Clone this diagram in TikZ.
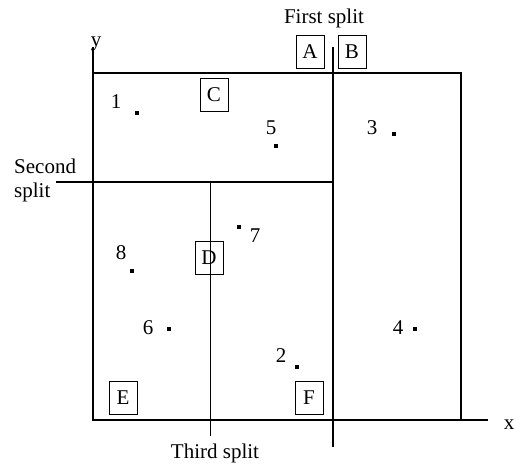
\documentclass[tikz,border=0pt]{standalone}
\usepackage{fontspec}
\setmainfont{Liberation Serif}
\begin{document}
\begin{tikzpicture}[x=1pt,y=-1pt,
    region/.style={draw, line width=0.9pt, minimum width=28pt, minimum height=33pt, inner sep=0pt, font=\fontsize{21}{25}\selectfont},
    lbl/.style={inner sep=0pt, font=\fontsize{21}{24}\selectfont},
    datapt/.style={fill, minimum size=3.5pt, inner sep=0pt}]
  \useasboundingbox (0,0) rectangle (515,464);
  % axes
  \coordinate (O) at (93,420);
  \coordinate (ytop) at (93,47);
  \coordinate (xend) at (488,420);
  \draw [line width=1.8pt] (ytop) -- (O) -- (xend);
  \node [lbl] (ylbl) at (96,44) {y};
  \node [lbl] (xlbl) at (509,425) {x};

  % outer box
  \coordinate (tl) at (93,73);
  \coordinate (tr) at (461,73);
  \coordinate (br) at (461,420);
  \draw [line width=1.2pt] (tl) -- (tr) -- (br);

  % splits
  \coordinate (s1top) at (333,47);
  \coordinate (s1bot) at (333,447);
  \draw [line width=1.2pt] (s1top) -- (s1bot);
  \coordinate (s2left) at (56,182);
  \coordinate (s2right) at (333,182);
  \draw [line width=1.2pt] (s2left) -- (s2right);
  \coordinate (s3top) at (210,182);
  \coordinate (s3bot) at (210,436);
  \draw [line width=0.9pt] (s3top) -- (s3bot);

  \node [lbl] (first) at (324,18) {First split};
  \node [lbl, align=left, anchor=west] (second) at (14,180) {Second\\split};
  \node [lbl] (third) at (215,453) {Third split};

  % regions
  \node [region] (A) at (310,52) {A};
  \node [region] (B) at (352,52) {B};
  \node [region] (C) at (214,95) {C};
  \node [region] (D) at (209,258) {D};
  \node [region] (E) at (123,398) {E};
  \node [region] (F) at (309,398) {F};

  % points
  \foreach \n/\px/\py/\lx/\ly in {1/137/113/116/102, 2/297/367/281/356, 3/394/134/372/128,
      4/415/329/398/328, 5/276/146/271/128, 6/169/329/148/328, 7/239/227/255/236, 8/132/271/121/253}
  {
    \node [datapt] (p\n) at (\px,\py) {};
    \node [lbl] (l\n) at (\lx,\ly) {\n};
  }
\end{tikzpicture}
\end{document}
